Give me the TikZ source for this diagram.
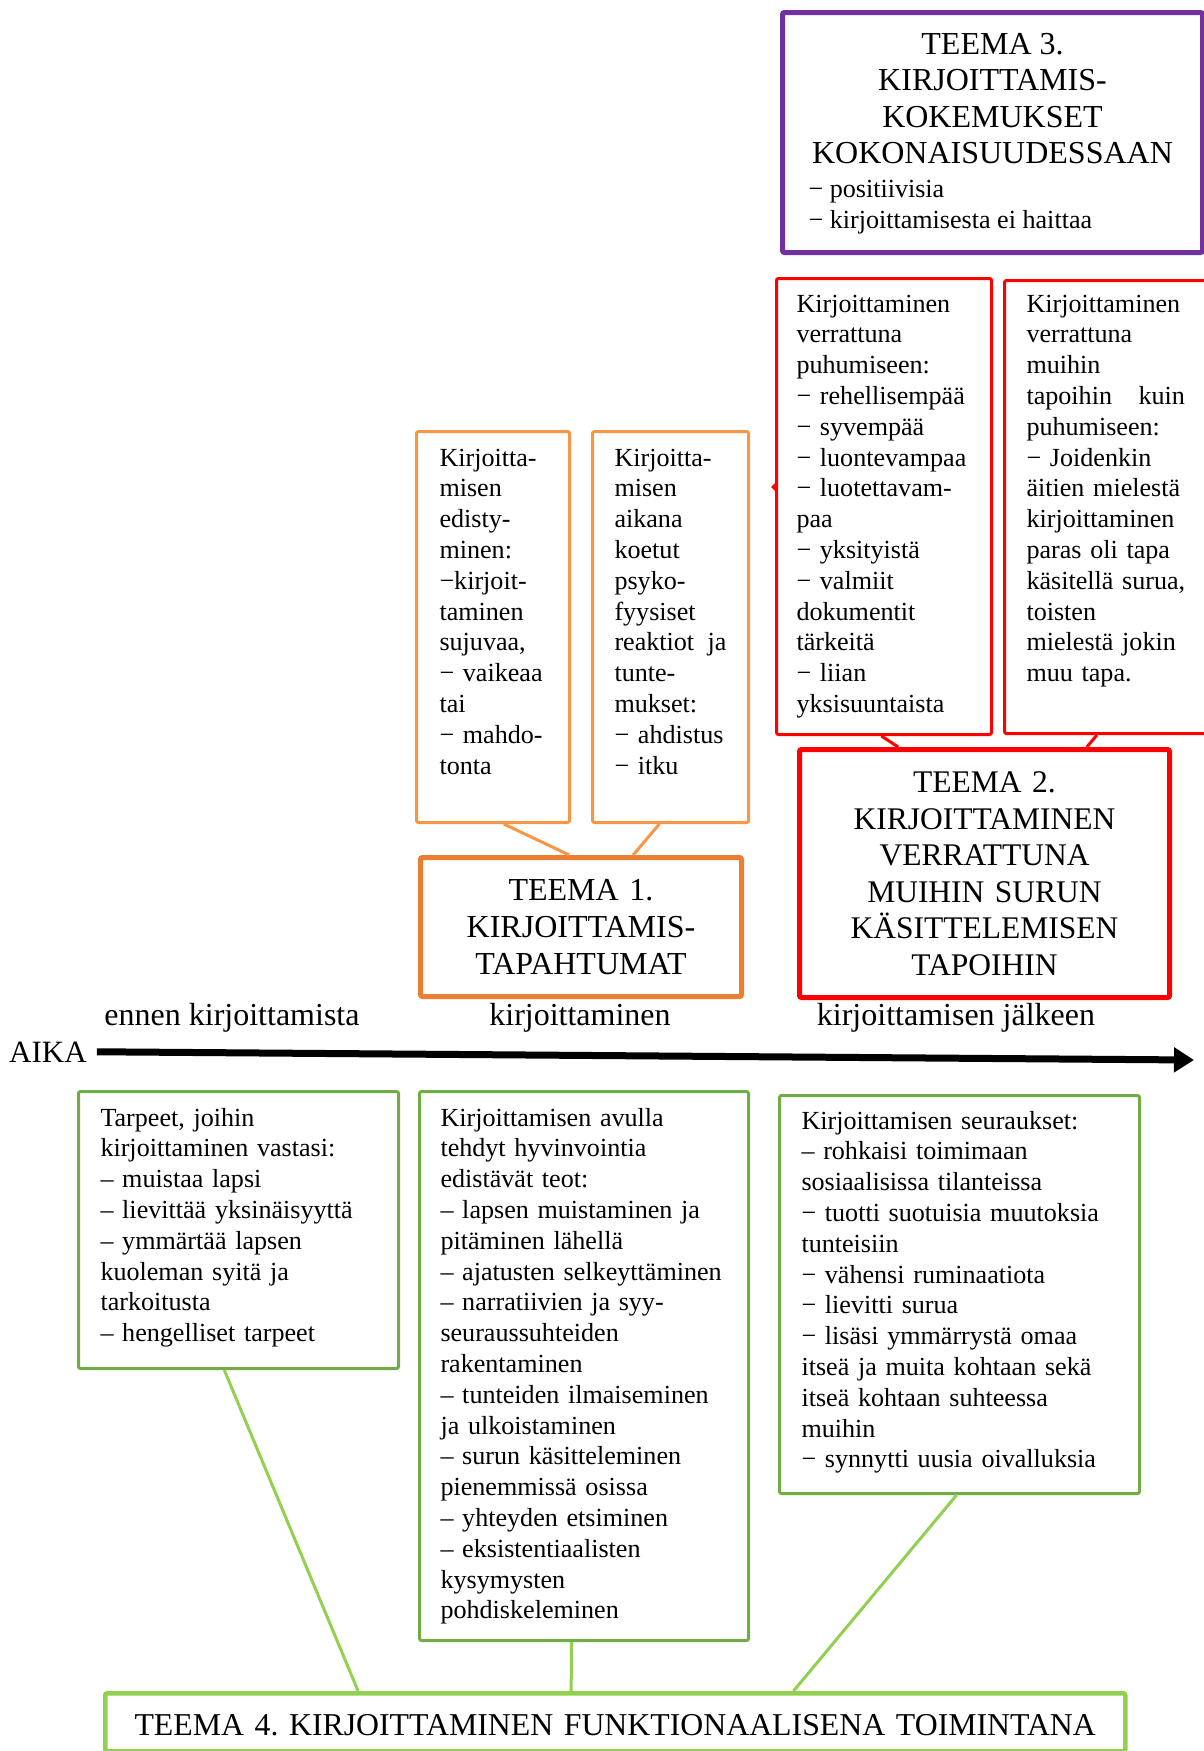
\documentclass[tikz,border=0pt]{standalone}
\usepackage{fontspec}
\setmainfont{Liberation Serif}
\usetikzlibrary{arrows.meta,calc}
\definecolor{tpurple}{HTML}{7030A0}
\definecolor{tred}{HTML}{FF0000}
\definecolor{torange}{HTML}{F79646}
\definecolor{tdorange}{HTML}{ED7D31}
\definecolor{tgreen}{HTML}{70AD47}
\definecolor{tlgreen}{HTML}{92D050}
\newcommand{\bodysize}{\fontsize{26.1pt}{30.8pt}\selectfont}
\newcommand{\headsize}{\fontsize{31.5pt}{36.6pt}\selectfont}
\hyphenpenalty=10000
\frenchspacing
\begin{document}
\begin{tikzpicture}[x=1pt,y=-1pt,
  card/.style={draw, anchor=north west, align=left, rounded corners=2pt, line width=3pt, inner ysep=17pt, font=\bodysize},
  theme/.style={draw, anchor=north west, align=center, rounded corners=2pt, line width=5pt, inner ysep=17pt, inner xsep=10pt},
  link/.style={line width=3pt},
  timelabel/.style={anchor=base, inner sep=0pt, font=\fontsize{32pt}{37pt}\selectfont}
]
\useasboundingbox (0,0) rectangle (1203,1751);

% ---------- TEEMA 3 ----------
\node[theme, draw=tpurple, align=flush left, font=\bodysize, inner xsep=26pt, text width=368pt, text height=24.6pt, text depth=181.4pt] (theme3) at (780,10)
 {{\centering\fontsize{32pt}{36.5pt}\selectfont TEEMA 3.\\ KIRJOITTAMIS-\\ KOKEMUKSET\\ KOKONAISUUDESSAAN\par}\vspace{2.3pt}\fontsize{26.1pt}{31.3pt}\selectfont
  − positiivisia\\ − kirjoittamisesta ei haittaa\par};

% ---------- red cards ----------
\node[card, draw=tred, inner xsep=20pt, text width=175pt, text height=16.5pt, text depth=405.5pt] (compTalk) at (775,277)
 {Kirjoittaminen\\ verrattuna\\ puhumiseen:\\ − rehellisempää\\ − syvempää\\ − luontevampaa\\ − luotettavam-\\ paa\\ − yksityistä\\ − valmiit\\ dokumentit\\ tärkeitä\\ − liian\\ yksisuuntaista};
\node[card, draw=tred, inner xsep=22pt, text width=166pt, text height=14.5pt, text depth=404.5pt] (compOther) at (1003,279)
 {Kirjoittaminen\\ verrattuna\\ muihin\\ tapoihin\hspace{26.5pt}kuin\\ puhumiseen:\\ − Joidenkin\\ äitien mielestä\\ kirjoittaminen\\ paras oli tapa\\ käsitellä surua,\\ toisten\\ mielestä jokin\\ muu tapa.};
\fill[tred] ($(compTalk.north west)+(0,206)$) -- ++(-4,4) -- ++(4,4) -- cycle;

% ---------- TEEMA 2 ----------
\node[theme, draw=tred, font=\headsize, text width=350pt, text height=26pt, text depth=188pt] (theme2) at (797,747)
 {TEEMA 2.\\ KIRJOITTAMINEN\\ VERRATTUNA\\ MUIHIN SURUN\\ KÄSITTELEMISEN\\ TAPOIHIN};

% ---------- orange cards ----------
\node[card, draw=torange, inner xsep=23pt, text width=107pt, text height=17.5pt, text depth=339.5pt] (progress) at (415,430)
 {Kirjoitta-\\ misen\\ edisty-\\ minen:\\ −kirjoit-\\ taminen\\ sujuvaa,\\ − vaikeaa\\ tai\\ − mahdo-\\ tonta};
\node[card, draw=torange, inner xsep=22pt, text width=112pt, text height=17.5pt, text depth=339.5pt] (reactions) at (591,430)
 {Kirjoitta-\\ misen\\ aikana\\ koetut\\ psyko-\\ fyysiset\\ reaktiot\hfill ja\\ tunte-\\ mukset:\\ − ahdistus\\ − itku};

% ---------- TEEMA 1 ----------
\node[theme, draw=tdorange, font=\fontsize{32pt}{37pt}\selectfont, text width=301pt, text height=26pt, text depth=79pt] (theme1) at (418,855)
 {TEEMA 1.\\ KIRJOITTAMIS-\\ TAPAHTUMAT};

% ---------- time axis ----------
\node[timelabel] (before) at (232,1025) {ennen kirjoittamista};
\node[timelabel] (during) at (580,1025) {kirjoittaminen};
\node[timelabel] (after) at (956,1025) {kirjoittamisen jälkeen};
\node[anchor=base west, inner sep=0pt, font=\fontsize{31pt}{36pt}\selectfont] (aika) at (9,1062) {AIKA};
\coordinate (timeEnd) at (1194,1060);
\draw[line width=7pt, -{Triangle[length=20pt,width=24pt]}] ([xshift=10pt]aika.east) -- (timeEnd);

% ---------- green cards ----------
\node[card, draw=tgreen, inner xsep=22pt, text width=276pt, text height=17.5pt, text depth=225.5pt] (needs) at (77,1090)
 {Tarpeet, joihin\\ kirjoittaminen vastasi:\\ – muistaa lapsi\\ – lievittää yksinäisyyttä\\ – ymmärtää lapsen\\ kuoleman syitä ja\\ tarkoitusta\\ – hengelliset tarpeet};
\node[card, draw=tgreen, inner xsep=21pt, text width=287pt, text height=17.5pt, text depth=497.5pt] (acts) at (418,1090)
 {Kirjoittamisen avulla\\ tehdyt hyvinvointia\\ edistävät teot:\\ – lapsen muistaminen ja\\ pitäminen lähellä\\ – ajatusten selkeyttäminen\\ – narratiivien ja syy-\\ seuraussuhteiden\\ rakentaminen\\ – tunteiden ilmaiseminen\\ ja ulkoistaminen\\ – surun käsitteleminen\\ pienemmissä osissa\\ – yhteyden etsiminen\\ – eksistentiaalisten\\ kysymysten\\ pohdiskeleminen};
\node[card, draw=tgreen, inner xsep=22pt, text width=316pt, text height=16.5pt, text depth=347.5pt] (results) at (778,1094)
 {Kirjoittamisen seuraukset:\\ – rohkaisi toimimaan\\ sosiaalisissa tilanteissa\\ − tuotti suotuisia muutoksia\\ tunteisiin\\ − vähensi ruminaatiota\\ − lievitti surua\\ − lisäsi ymmärrystä omaa\\ itseä ja muita kohtaan sekä\\ itseä kohtaan suhteessa\\ muihin\\ − synnytti uusia oivalluksia};

% ---------- TEEMA 4 ----------
\node[theme, draw=tlgreen, line width=4.5pt, font=\fontsize{31.8pt}{37pt}\selectfont, inner ysep=10pt, text width=1000pt, text height=32pt, text depth=6pt] (theme4) at (103,1691)
 {TEEMA 4. KIRJOITTAMINEN FUNKTIONAALISENA TOIMINTANA};

% ---------- connectors ----------
\draw[link, torange] ($(progress.south west)!0.569!(progress.south east)$) -- ($(theme1.north west)!0.464!(theme1.north east)$);
\draw[link, torange] ($(reactions.south west)!0.43!(reactions.south east)$) -- ($(theme1.north west)!0.66!(theme1.north east)$);
\draw[link, tred] ($(compTalk.south west)!0.488!(compTalk.south east)$) -- ($(theme2.north west)!0.27!(theme2.north east)$);
\draw[link, tred] ($(compOther.south west)!0.441!(compOther.south east)$) -- ($(theme2.north west)!0.773!(theme2.north east)$);
\draw[link, tlgreen] ($(needs.south west)!0.456!(needs.south east)$) -- ($(theme4.north west)!0.249!(theme4.north east)$);
\draw[link, tlgreen] ($(acts.south west)!0.462!(acts.south east)$) -- ($(theme4.north west)!0.457!(theme4.north east)$);
\draw[link, tlgreen] ($(results.south west)!0.492!(results.south east)$) -- ($(theme4.north west)!0.674!(theme4.north east)$);
\end{tikzpicture}
\end{document}
